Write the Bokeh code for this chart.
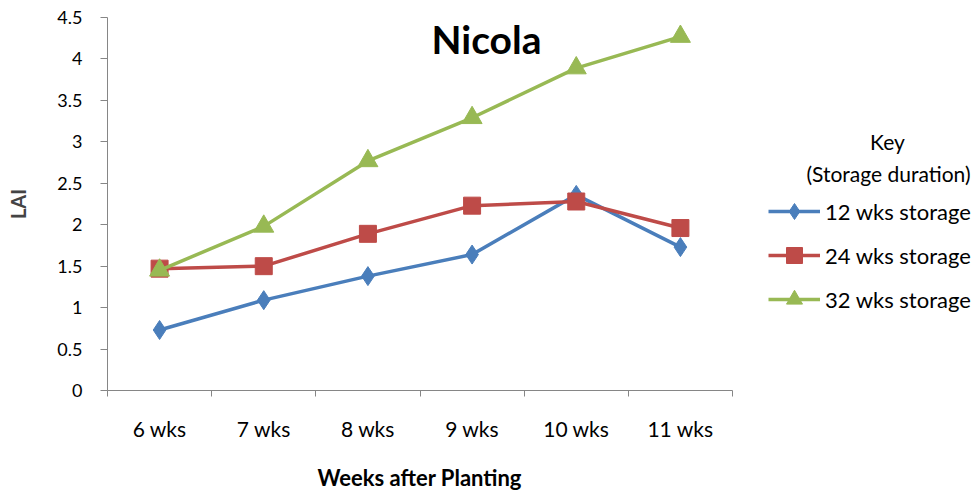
from bokeh.plotting import figure
from bokeh.models import (ColumnDataSource, FixedTicker, Range1d, Legend, LegendItem, Label, Title)
from bokeh.embed import file_html
from bokeh.resources import INLINE

categories = ["6 wks", "7 wks", "8 wks", "9 wks", "10 wks", "11 wks"]
series_names = ["12 wks storage", "24 wks storage", "32 wks storage"]
lai_12 = [0.73, 1.09, 1.38, 1.64, 2.36, 1.73]
lai_24 = [1.47, 1.50, 1.89, 2.23, 2.28, 1.96]
lai_32 = [1.45, 1.98, 2.77, 3.29, 3.89, 4.27]
y_ticks = [0, 0.5, 1, 1.5, 2, 2.5, 3, 3.5, 4, 4.5]

FONT = "Lato"
colors = ["#4A7EBB", "#BE4B48", "#98B954"]
markers = ["diamond", "square", "triangle"]
msizes = [19, 17, 20]

# frame: left 107, right edge of window; category area spans 107..732
n = len(categories)
px_per_cat = (732 - 107) / n
x_end = 0.5 + (974 - 107) / px_per_cat

p = figure(width=974, height=491, output_backend="svg", toolbar_location=None,
           x_range=Range1d(0.5, x_end), y_range=Range1d(0, 4.5),
           min_border_left=107, min_border_right=0, min_border_top=17, min_border_bottom=101)
p.outline_line_color = None
p.xgrid.visible = False
p.ygrid.visible = False
p.background_fill_color = "white"
p.border_fill_color = "white"

xs = list(range(1, n + 1))
items = []
for name, vals, c, m, s in zip(series_names, [lai_12, lai_24, lai_32], colors, markers, msizes):
    src = ColumnDataSource(dict(x=xs, y=vals))
    r1 = p.line("x", "y", source=src, line_color=c, line_width=3.5)
    r2 = p.scatter("x", "y", source=src, marker=m, size=s, fill_color=c, line_color=c)
    items.append(LegendItem(label=name, renderers=[r1, r2]))

# x axis
xa = p.xaxis[0]
xa.bounds = (0.5, n + 0.5)
xa.ticker = FixedTicker(ticks=xs, minor_ticks=[x + 0.5 for x in [0] + xs])
xa.major_label_overrides = {x: c for x, c in zip(xs, categories)}
xa.major_tick_out = 0
xa.major_tick_in = 0
xa.minor_tick_out = 6
xa.minor_tick_in = 0
xa.minor_tick_line_color = "#868686"
xa.axis_line_color = "#868686"
xa.major_label_text_font = FONT
xa.major_label_text_font_size = "21px"
xa.major_label_text_color = "#000000"
xa.major_label_standoff = 19
xa.axis_label = None

# x axis title, placed under the category span
p.add_layout(Title(text="Weeks after Planting", align="left", offset=(420 - 107) - 103,
                   text_font=FONT, text_font_style="bold", text_font_size="22px",
                   text_color="#000000", standoff=0, vertical_align="bottom",
                   padding=dict(top=18, bottom=0, left=0, right=0)), "below")

# y axis
ya = p.yaxis[0]
ya.ticker = FixedTicker(ticks=y_ticks)
ya.major_label_overrides = {t: (str(int(t)) if t == int(t) else str(t)) for t in y_ticks}
ya.major_tick_out = 7
ya.major_tick_in = 0
ya.minor_tick_line_color = None
ya.major_tick_line_color = "#868686"
ya.axis_line_color = "#868686"
ya.major_label_text_font = FONT
ya.major_label_text_font_size = "18px"
ya.major_label_text_color = "#000000"
ya.major_label_standoff = 18
ya.axis_label = "LAI"
ya.axis_label_text_font = FONT
ya.axis_label_text_font_style = "bold"
ya.axis_label_text_font_size = "20px"
ya.axis_label_standoff = 24

def add_text(X, Y, txt, size="21px", style="normal"):
    # X, Y: window pixels; label screen units are relative to frame bottom-left
    p.add_layout(Label(x=X - 107, y=390 - Y, x_units="screen", y_units="screen", text=txt,
                       text_font=FONT, text_font_style=style, text_font_size=size,
                       text_align="center", text_baseline="middle", text_color="#000000"))

add_text(486, 38, "Nicola", size="39px", style="bold")
add_text(887, 141, "Key")
add_text(888, 173, "(Storage duration)")

legend = Legend(items=items, location=(768 - 107, 390 - 319), orientation="vertical",
                glyph_width=52, glyph_height=40, label_height=40, spacing=4,
                label_standoff=5, padding=0, margin=0, border_line_color=None,
                background_fill_alpha=0, label_text_font=FONT, label_text_font_size="22px",
                label_text_color="#000000")
p.add_layout(legend, "center")

open("out.html", "w").write(file_html(p, INLINE))
